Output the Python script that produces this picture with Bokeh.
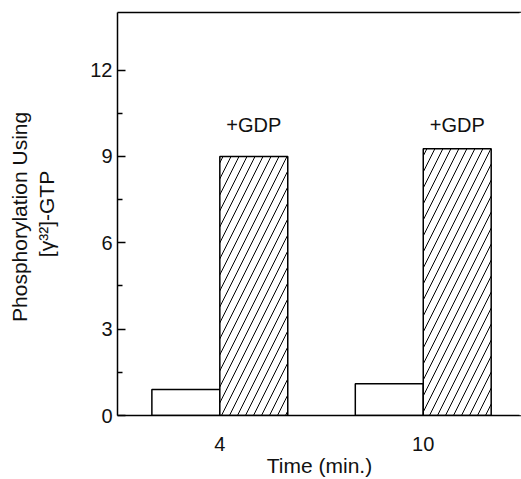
from bokeh.plotting import figure
from bokeh.models import Range1d, FixedTicker, LinearAxis, Span
from bokeh.embed import file_html
from bokeh.resources import INLINE
from bokeh.core.properties import value

# ---- data ----
times = ["4", "10"]
control = [0.9, 1.1]
gdp = [9.0, 9.27]
gdp_label = "+GDP"
y_ticks = [0, 3, 6, 9, 12]
y_minor = [1.5, 4.5, 7.5, 10.5]
x_title = "Time (min.)"
y_title = "Phosphorylation  Using\n[\u03b3\u00b3\u00b2]-GTP"

FONT = "Liberation Sans"
INK = "#111111"

pos = [i + 1 for i in range(len(times))]
bw = 0.334
X0, X1 = 0.497, 2.483
Y0, Y1 = 0, 14

p = figure(width=521, height=479, output_backend="svg", toolbar_location=None,
           x_range=Range1d(X0, X1), y_range=Range1d(Y0, Y1),
           min_border_left=117, min_border_right=0, min_border_top=12, min_border_bottom=64)
p.outline_line_color = None
p.outline_line_alpha = 0
p.outline_line_width = 0
p.grid.visible = False
p.background_fill_color = "white"
p.border_fill_color = "white"

xa = p.below[0]
ya = p.left[0]

# bars
p.quad(left=[x - bw for x in pos], right=pos, bottom=0, top=control,
       fill_color="white", line_color="black", line_width=1.5)
p.quad(left=pos, right=[x + bw for x in pos], bottom=0, top=gdp,
       fill_color="white", line_color="black", line_width=1.5,
       hatch_pattern="/", hatch_scale=16, hatch_weight=1, hatch_color="black")

label_y = max(gdp) + 0.83
p.text(x=[x + bw / 2 for x in pos], y=[label_y] * len(pos), text=[gdp_label] * len(pos),
       text_align="center", text_baseline="alphabetic",
       text_font=value(FONT), text_font_size="20px", text_color=INK)

# mask any edge line on the open right side of the frame
p.add_layout(Span(location=X1, dimension="height", line_color="white", line_width=4))

# top frame line as a bare axis
top = LinearAxis(ticker=FixedTicker(ticks=[]), axis_line_width=1.5,
                 major_tick_line_color=None, minor_tick_line_color=None,
                 major_tick_in=0, major_tick_out=0, minor_tick_in=0, minor_tick_out=0,
                 major_label_standoff=0, major_label_text_font_size="0px")
p.add_layout(top, "above")

ya.ticker = FixedTicker(ticks=y_ticks, minor_ticks=y_minor)
ya.axis_line_width = 1.5
ya.major_tick_in = 8
ya.major_tick_out = 0
ya.minor_tick_in = 5
ya.minor_tick_out = 0
ya.major_tick_line_width = 1.5
ya.minor_tick_line_width = 1.5
ya.major_label_standoff = 5
ya.major_label_text_font = FONT
ya.major_label_text_font_size = "20px"
ya.major_label_text_color = INK
ya.axis_label = y_title
ya.axis_label_standoff = 29
ya.axis_label_text_font = FONT
ya.axis_label_text_font_size = "21px"
ya.axis_label_text_font_style = "normal"
ya.axis_label_text_color = INK

xa.ticker = FixedTicker(ticks=pos, minor_ticks=[])
xa.major_label_overrides = {x: t for x, t in zip(pos, times)}
xa.axis_line_width = 1.5
xa.major_tick_line_color = None
xa.minor_tick_line_color = None
xa.major_tick_in = 0
xa.major_tick_out = 0
xa.major_label_standoff = 21
xa.major_label_text_font = FONT
xa.major_label_text_font_size = "20px"
xa.major_label_text_color = INK
xa.axis_label = x_title
xa.axis_label_standoff = 0
xa.axis_label_text_font = FONT
xa.axis_label_text_font_size = "21px"
xa.axis_label_text_font_style = "normal"
xa.axis_label_text_color = INK

open("out.html", "w").write(file_html(p, INLINE))
